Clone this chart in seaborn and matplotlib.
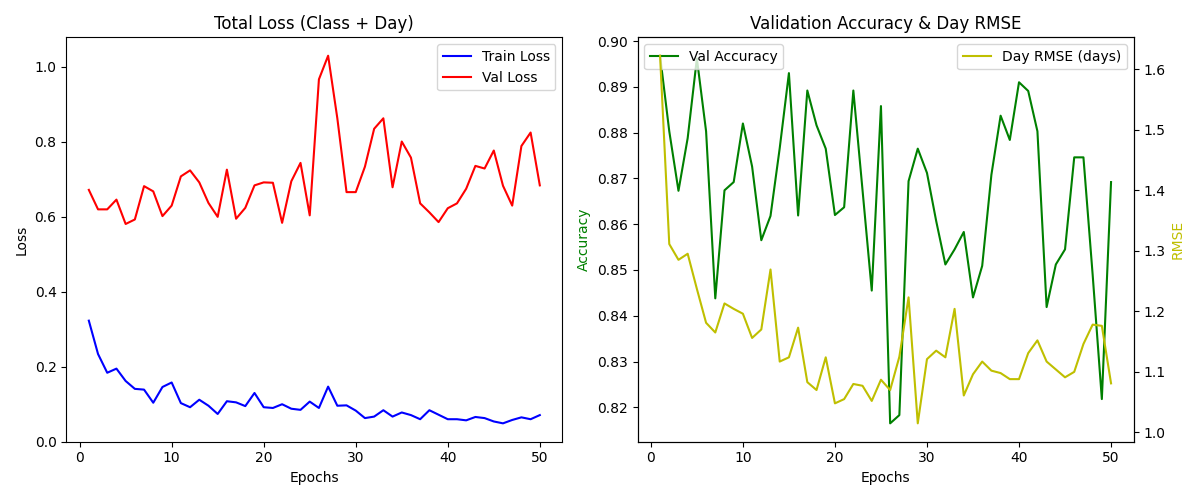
import numpy as np
import pandas as pd
import seaborn as sns
import matplotlib
matplotlib.use('Agg')
import matplotlib.pyplot as plt

# Values
epochs = list(range(1, 51))

train_loss = [0.323, 0.234, 0.184, 0.195, 0.162, 0.141, 0.139, 0.104, 0.146, 0.158,
              0.103, 0.092, 0.112, 0.096, 0.074, 0.108, 0.105, 0.095, 0.130, 0.092,
              0.090, 0.100, 0.088, 0.085, 0.107, 0.090, 0.147, 0.096, 0.097, 0.083,
              0.063, 0.067, 0.084, 0.067, 0.078, 0.071, 0.060, 0.084, 0.072, 0.060,
              0.060, 0.057, 0.066, 0.063, 0.054, 0.049, 0.058, 0.065, 0.060, 0.071]

val_loss = [0.672, 0.620, 0.620, 0.646, 0.581, 0.593, 0.682, 0.668, 0.602, 0.630,
            0.708, 0.724, 0.692, 0.637, 0.600, 0.726, 0.595, 0.624, 0.684, 0.692,
            0.691, 0.584, 0.695, 0.744, 0.604, 0.967, 1.030, 0.863, 0.666, 0.666,
            0.734, 0.835, 0.863, 0.679, 0.801, 0.758, 0.636, 0.612, 0.586, 0.623,
            0.636, 0.675, 0.736, 0.729, 0.777, 0.683, 0.630, 0.789, 0.825, 0.684]

val_acc = [0.8968, 0.8803, 0.8673, 0.8788, 0.8962, 0.8803, 0.8438, 0.8674, 0.8692, 0.8820,
           0.8726, 0.8565, 0.8618, 0.8766, 0.8930, 0.8619, 0.8892, 0.8816, 0.8765, 0.8620,
           0.8637, 0.8892, 0.8674, 0.8455, 0.8858, 0.8165, 0.8183, 0.8694, 0.8765, 0.8712,
           0.8607, 0.8512, 0.8545, 0.8583, 0.8440, 0.8509, 0.8708, 0.8837, 0.8784, 0.8910,
           0.8891, 0.8803, 0.8419, 0.8512, 0.8545, 0.8746, 0.8746, 0.8490, 0.8218, 0.8692]

day_rmse = [1.622, 1.311, 1.285, 1.295, 1.237, 1.181, 1.165, 1.213, 1.204, 1.196,
            1.156, 1.170, 1.269, 1.117, 1.124, 1.173, 1.083, 1.070, 1.124, 1.048,
            1.055, 1.080, 1.077, 1.052, 1.087, 1.070, 1.125, 1.223, 1.015, 1.121,
            1.135, 1.124, 1.204, 1.061, 1.096, 1.117, 1.102, 1.098, 1.088, 1.088,
            1.131, 1.152, 1.117, 1.104, 1.091, 1.100, 1.146, 1.178, 1.176, 1.081]

df = pd.DataFrame({'epoch': epochs, 'train_loss': train_loss, 'val_loss': val_loss,
                   'val_acc': val_acc, 'day_rmse': day_rmse})

fig, (ax1, ax2) = plt.subplots(1, 2, figsize=(12, 5), dpi=100)

# Left: total loss
sns.lineplot(data=df, x='epoch', y='train_loss', color='b', label='Train Loss', ax=ax1)
sns.lineplot(data=df, x='epoch', y='val_loss', color='r', label='Val Loss', ax=ax1)
ax1.set_title('Total Loss (Class + Day)')
ax1.set_xlabel('Epochs')
ax1.set_ylabel('Loss')
ax1.legend(loc='upper right')

# Right: accuracy with RMSE on a twin axis
sns.lineplot(data=df, x='epoch', y='val_acc', color='g', label='Val Accuracy', ax=ax2)
ax2.set_title('Validation Accuracy & Day RMSE')
ax2.set_xlabel('Epochs')
ax2.set_ylabel('Accuracy', color='g')
ax2.legend(loc='upper left')

ax3 = ax2.twinx()
sns.lineplot(data=df, x='epoch', y='day_rmse', color='y', label='Day RMSE (days)', ax=ax3)
ax3.set_ylabel('RMSE', color='y')
ax3.legend(loc='upper right')

plt.tight_layout()
plt.savefig('out.png', dpi=100)
